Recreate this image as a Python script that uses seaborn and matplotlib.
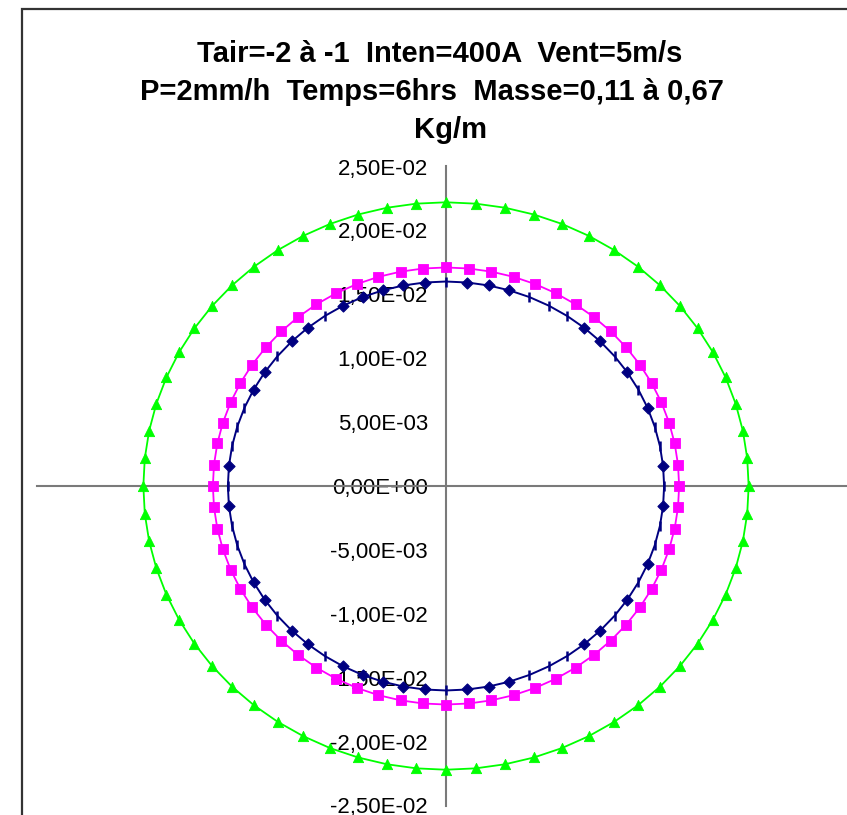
import numpy as np
import pandas as pd
import matplotlib
matplotlib.use("Agg")
import matplotlib.pyplot as plt
from matplotlib.patches import Rectangle
import seaborn as sns

# ---------------- data ----------------
angle_deg = [0, 5.625, 11.25, 16.875, 22.5, 28.125, 33.75, 39.375,
             45, 50.625, 56.25, 61.875, 67.5, 73.125, 78.75, 84.375,
             90, 95.625, 101.25, 106.875, 112.5, 118.125, 123.75, 129.375,
             135, 140.625, 146.25, 151.875, 157.5, 163.125, 168.75, 174.375,
             180, 185.625, 191.25, 196.875, 202.5, 208.125, 213.75, 219.375,
             225, 230.625, 236.25, 241.875, 247.5, 253.125, 258.75, 264.375,
             270, 275.625, 281.25, 286.875, 292.5, 298.125, 303.75, 309.375,
             315, 320.625, 326.25, 331.875, 337.5, 343.125, 348.75, 354.375]

navy_r = [0.0160, 0.0160, 0.0160, 0.0160, 0.0160, 0.0160, 0.0160, 0.0160,
          0.0160, 0.0160, 0.0160, 0.0160, 0.0160, 0.0160, 0.0160, 0.0160,
          0.0160, 0.0160, 0.0160, 0.0160, 0.0160, 0.0160, 0.0160, 0.0160,
          0.0160, 0.0160, 0.0160, 0.0160, 0.0160, 0.0160, 0.0160, 0.0160,
          0.0160, 0.0160, 0.0160, 0.0160, 0.0160, 0.0160, 0.0160, 0.0160,
          0.0160, 0.0160, 0.0160, 0.0160, 0.0160, 0.0160, 0.0160, 0.0160,
          0.0160, 0.0160, 0.0160, 0.0160, 0.0160, 0.0160, 0.0160, 0.0160,
          0.0160, 0.0160, 0.0160, 0.0160, 0.0160, 0.0160, 0.0160, 0.0160]

magenta_r = [0.0171, 0.0171, 0.0171, 0.0171, 0.0171, 0.0171, 0.0171, 0.0171,
             0.0171, 0.0171, 0.0171, 0.0171, 0.0171, 0.0171, 0.0171, 0.0171,
             0.0171, 0.0171, 0.0171, 0.0171, 0.0171, 0.0171, 0.0171, 0.0171,
             0.0171, 0.0171, 0.0171, 0.0171, 0.0171, 0.0171, 0.0171, 0.0171,
             0.0171, 0.0171, 0.0171, 0.0171, 0.0171, 0.0171, 0.0171, 0.0171,
             0.0171, 0.0171, 0.0171, 0.0171, 0.0171, 0.0171, 0.0171, 0.0171,
             0.0171, 0.0171, 0.0171, 0.0171, 0.0171, 0.0171, 0.0171, 0.0171,
             0.0171, 0.0171, 0.0171, 0.0171, 0.0171, 0.0171, 0.0171, 0.0171]

green_r = [0.0222, 0.0222, 0.0222, 0.0222, 0.0222, 0.0222, 0.0222, 0.0222,
           0.0222, 0.0222, 0.0222, 0.0222, 0.0222, 0.0222, 0.0222, 0.0222,
           0.0222, 0.0222, 0.0222, 0.0222, 0.0222, 0.0222, 0.0222, 0.0222,
           0.0222, 0.0222, 0.0222, 0.0222, 0.0222, 0.0222, 0.0222, 0.0222,
           0.0222, 0.0222, 0.0222, 0.0222, 0.0222, 0.0222, 0.0222, 0.0222,
           0.0222, 0.0222, 0.0222, 0.0222, 0.0222, 0.0222, 0.0222, 0.0222,
           0.0222, 0.0222, 0.0222, 0.0222, 0.0222, 0.0222, 0.0222, 0.0222,
           0.0222, 0.0222, 0.0222, 0.0222, 0.0222, 0.0222, 0.0222, 0.0222]

# marker kind of each navy point as seen in the reference (D = diamond, | = bar)
navy_marker_kind = ['|', 'D', '|', '|', 'D', '|', 'D', '|', 'D', 'D', '|', '|', '|', 'D', 'D', 'D',
                    '|', 'D', 'D', 'D', 'D', 'D', '|', 'D', 'D', '|', 'D', 'D', '|', '|', '|', 'D',
                    '|', 'D', '|', '|', '|', 'D', 'D', '|', 'D', 'D', '|', 'D', 'D', 'D', 'D', 'D',
                    '|', 'D', 'D', 'D', '|', '|', '|', 'D', 'D', '|', 'D', '|', 'D', '|', '|', 'D']

y_ticks = [-0.025, -0.020, -0.015, -0.010, -0.005, 0.0, 0.005, 0.010, 0.015, 0.020, 0.025]
x_ticks = [-0.03, -0.02, -0.01, 0.0, 0.01, 0.02, 0.03]

title_lines = ["Tair=-2 à -1  Inten=400A  Vent=5m/s",
               "P=2mm/h  Temps=6hrs  Masse=0,11 à 0,67",
               "Kg/m"]


def to_frame(radius, kinds=None):
    th = np.deg2rad(np.asarray(angle_deg, dtype=float))
    r = np.asarray(radius, dtype=float)
    df = pd.DataFrame({"x": r * np.cos(th), "y": r * np.sin(th), "order": np.arange(len(th))})
    if kinds is not None:
        df["kind"] = kinds
    return df


def closed(df):
    return pd.concat([df, df.iloc[[0]]], ignore_index=True)


navy = to_frame(navy_r, navy_marker_kind)
magenta = to_frame(magenta_r)
green = to_frame(green_r)

# ---------------- style ----------------
sns.set_style("white")
plt.rcParams["font.family"] = ["Liberation Sans", "DejaVu Sans"]

W, H = 847, 815
fig = plt.figure(figsize=(W / 100, H / 100), dpi=100)
fig.patch.set_facecolor("white")

# outer chart border (cropped at right / bottom in the reference)
fig.add_artist(Rectangle((22 / W, -0.2), 2.0, 1.2 - 9 / H, transform=fig.transFigure,
                         fill=False, edgecolor="#333333", linewidth=1.6))

ax = fig.add_axes([37 / W, 1 - 805.5 / H, 818 / W, 639 / H])
ax.patch.set_alpha(0)

GREEN = "#00FF00"
MAGENTA = "#FF00FF"
NAVY = "#000080"

sns.lineplot(data=closed(green), x="x", y="y", sort=False, estimator=None,
             color=GREEN, linewidth=1.3, ax=ax, legend=False, zorder=2)
sns.lineplot(data=closed(magenta), x="x", y="y", sort=False, estimator=None,
             color=MAGENTA, linewidth=1.3, ax=ax, legend=False, zorder=2)
sns.lineplot(data=closed(navy), x="x", y="y", sort=False, estimator=None,
             color=NAVY, linewidth=1.4, ax=ax, legend=False, zorder=2)

sns.scatterplot(data=green, x="x", y="y", marker="^", s=55, color=GREEN,
                edgecolor=GREEN, linewidth=0.6, ax=ax, legend=False, zorder=2.1)
sns.scatterplot(data=magenta, x="x", y="y", marker="s", s=44, color=MAGENTA,
                edgecolor=MAGENTA, linewidth=0.6, ax=ax, legend=False, zorder=2.1)
sns.scatterplot(data=navy[navy["kind"] == "D"], x="x", y="y", marker="D", s=32,
                color=NAVY, edgecolor=NAVY, linewidth=0.8, ax=ax, legend=False, zorder=2.1)
sns.scatterplot(data=navy[navy["kind"] == "|"], x="x", y="y", marker="|", s=55,
                color=NAVY, linewidth=1.8, ax=ax, legend=False, zorder=2.1)

ax.set_xlim(x_ticks[0], x_ticks[-1])
ax.set_ylim(y_ticks[0], y_ticks[-1])
ax.set_xlabel("")
ax.set_ylabel("")

for side in ("top", "right"):
    ax.spines[side].set_visible(False)
for side in ("left", "bottom"):
    ax.spines[side].set_position(("data", 0))
    ax.spines[side].set_color("#7a7a7a")
    ax.spines[side].set_linewidth(1.5)
    ax.spines[side].set_zorder(1)

ax.set_xticks(x_ticks)
ax.set_xticklabels([])
ax.set_yticks(y_ticks)
ax.set_yticklabels([f"{v:.2E}".replace(".", ",") for v in y_ticks])
ax.tick_params(axis="both", direction="inout", length=11, width=1.1,
               color="#505050", labelsize=16, labelcolor="black", pad=7.5)

# title (three centred lines)
title_x = [440, 432, 450]
title_base = [61.7, 100, 138]
for txt, xc, yb in zip(title_lines, title_x, title_base):
    fig.text(xc / W, 1 - yb / H, txt, ha="center", va="baseline",
             fontsize=21, fontweight="bold", color="black")

fig.savefig("out.png", dpi=100)
